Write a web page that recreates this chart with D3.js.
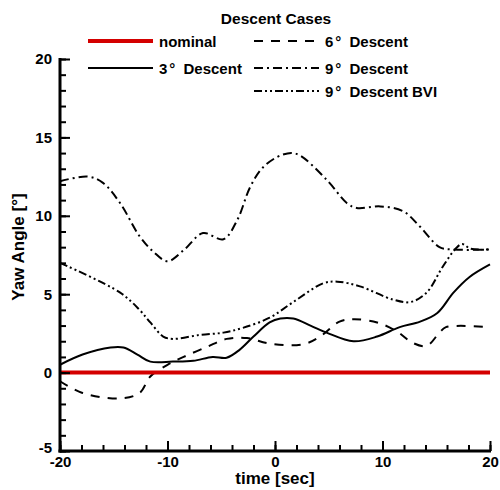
<!DOCTYPE html>
<html><head><meta charset="utf-8">
<script src="https://cdn.jsdelivr.net/npm/d3@7"></script>
<style>body{margin:0;background:#fff}svg{display:block}text{font-family:"Liberation Sans",Arial,sans-serif;font-weight:bold}</style>
</head><body>
<svg id="c" width="500" height="490"></svg>
<script>
const xTicks = [-20, -10, 0, 10, 20];
const yTicks = [-5, 0, 5, 10, 15, 20];
const seriesNames = ["nominal", "3° Descent", "6° Descent", "9° Descent", "9° Descent BVI"];
const nominalT = [-20, 20];
const nominalV = [0, 0];
const d3T = [-20,-17.9,-15.3,-14.1,-12.8,-11.6,-9.5,-7.6,-5.8,-4.5,-3.3,-2,-0.5,0.5,1.7,3.3,4.8,7.3,9.5,11.6,13.5,15.1,16.6,18.1,20];
const d3V = [0.5,1.15,1.6,1.6,1.15,0.7,0.7,0.75,1.0,0.95,1.45,2.3,3.2,3.45,3.45,3.0,2.55,2.0,2.3,2.9,3.25,3.8,5.1,6.1,6.9];
const d6T = [-20,-17.9,-14.4,-12.6,-11.6,-10,-8.5,-6.3,-4.5,-2.6,-0.5,2.6,4.2,6,7.3,9.5,11.4,12.8,14.1,15.3,15.9,20];
const d6V = [-0.55,-1.3,-1.65,-1.3,-0.25,0.5,1.0,1.65,2.15,2.2,1.85,1.8,2.3,3.25,3.4,3.2,2.6,1.9,1.7,2.55,2.9,2.9];
const d9T = [-20,-17.4,-16,-14.4,-12.6,-11.3,-10,-8.5,-6.7,-4.8,-3.5,-2.3,-1.1,0.7,2,4.8,6.7,7.6,9.8,11.9,13.5,15.3,16.5,20];
const d9V = [12.2,12.5,12.1,10.8,8.7,7.7,7.1,7.8,8.9,8.5,9.75,11.85,13.1,13.9,13.95,12.3,10.8,10.5,10.6,10.3,9.3,8.0,7.85,7.85];
const bviT = [-20,-14.4,-12.6,-11.6,-10.4,-9.5,-7,-4.8,-3,-0.5,1.7,4.5,5.8,7.9,11,12.6,14.1,15.6,16.8,17.4,18.2,20];
const bviV = [7.0,5.1,4.0,3.2,2.3,2.15,2.4,2.55,2.85,3.5,4.5,5.7,5.8,5.5,4.65,4.5,5.1,6.75,7.9,8.2,7.9,7.85];

const svg = d3.select("#c");
const x = d3.scaleLinear().domain([-20, 20]).range([60, 490]);
const y = d3.scaleLinear().domain([-5, 20]).range([451, 59]);

const styles = {
  "nominal": {color:"#d40000", width:4, dash:null},
  "3° Descent": {color:"#000", width:2, dash:null},
  "6° Descent": {color:"#000", width:2, dash:"9,8"},
  "9° Descent": {color:"#000", width:2, dash:"9,4,2,4"},
  "9° Descent BVI": {color:"#000", width:2, dash:"8,3,2,3,2,3"}
};
const data = {
  "nominal": nominalT.map((t,i)=>[t,nominalV[i]]),
  "3° Descent": d3T.map((t,i)=>[t,d3V[i]]),
  "6° Descent": d6T.map((t,i)=>[t,d6V[i]]),
  "9° Descent": d9T.map((t,i)=>[t,d9V[i]]),
  "9° Descent BVI": bviT.map((t,i)=>[t,bviV[i]])
};
const line = d3.line().x(d=>x(d[0])).y(d=>y(d[1])).curve(d3.curveCatmullRom.alpha(0.5));

["9° Descent BVI","9° Descent","6° Descent","3° Descent","nominal"].forEach(n=>{
  const s = styles[n];
  svg.append("path").datum(data[n]).attr("d", line).attr("fill","none")
    .attr("stroke", s.color).attr("stroke-width", s.width)
    .attr("stroke-dasharray", s.dash);
});

// axes
const fmt = d => String(d);
const xAxisMinor = d3.axisBottom(x).tickValues(d3.range(-20, 21, 2)).tickSize(-6).tickFormat("");
const xAxisMajor = d3.axisBottom(x).tickValues(xTicks).tickSize(-10).tickPadding(5).tickFormat(fmt);
const yAxisMinor = d3.axisLeft(y).tickValues(d3.range(-5, 21, 1)).tickSize(-6).tickFormat("");
const yAxisMajor = d3.axisLeft(y).tickValues(yTicks).tickSize(-10).tickPadding(8).tickFormat(fmt);

function styleAxis(g){
  g.select(".domain").remove();
  g.selectAll(".tick line").attr("stroke","#000").attr("stroke-width",2);
  g.selectAll(".tick text").attr("fill","#000").style("font-size","15px");
}
svg.append("g").attr("transform","translate(0,451)").call(xAxisMinor).call(styleAxis);
svg.append("g").attr("transform","translate(0,451)").call(xAxisMajor).call(styleAxis);
svg.append("g").attr("transform","translate(60,0)").call(yAxisMinor).call(styleAxis);
const gy = svg.append("g").attr("transform","translate(60,0)").call(yAxisMajor).call(styleAxis);
gy.selectAll(".tick text").filter(d=>d===-5).attr("dy","0.1em");

svg.append("line").attr("x1",60).attr("x2",60).attr("y1",58).attr("y2",452.5).attr("stroke","#000").attr("stroke-width",3);
svg.append("line").attr("x1",58.5).attr("x2",491).attr("y1",451).attr("y2",451).attr("stroke","#000").attr("stroke-width",3);

// axis titles
svg.append("text").attr("x",275).attr("y",484).attr("text-anchor","middle").style("font-size","17px").text("time [sec]");
svg.append("text").attr("transform","translate(24,247) rotate(-90)").attr("text-anchor","middle").style("font-size","17px").text("Yaw Angle [°]");

// legend
svg.append("text").attr("x",276).attr("y",24).attr("text-anchor","middle").style("font-size","15.5px").text("Descent Cases");
const legendPos = {
  "nominal": [88, 41],
  "3° Descent": [88, 68],
  "6° Descent": [254, 41],
  "9° Descent": [254, 68],
  "9° Descent BVI": [254, 91]
};
seriesNames.forEach(n=>{
  const [lx, ly] = legendPos[n];
  const s = styles[n];
  svg.append("line").attr("x1",lx).attr("x2",lx+65).attr("y1",ly).attr("y2",ly)
    .attr("stroke",s.color).attr("stroke-width",s.width).attr("stroke-dasharray",s.dash);
  const t = svg.append("text").attr("x",lx+71).attr("y",ly+6).style("font-size","15px");
  const m = n.match(/^(\d)°(.*)$/);
  if (m) {
    t.append("tspan").text(m[1]);
    t.append("tspan").attr("dx",2).text("°");
    t.append("tspan").attr("dx",4).text(m[2]);
  } else {
    t.text(n);
  }
});
</script>
</body></html>
